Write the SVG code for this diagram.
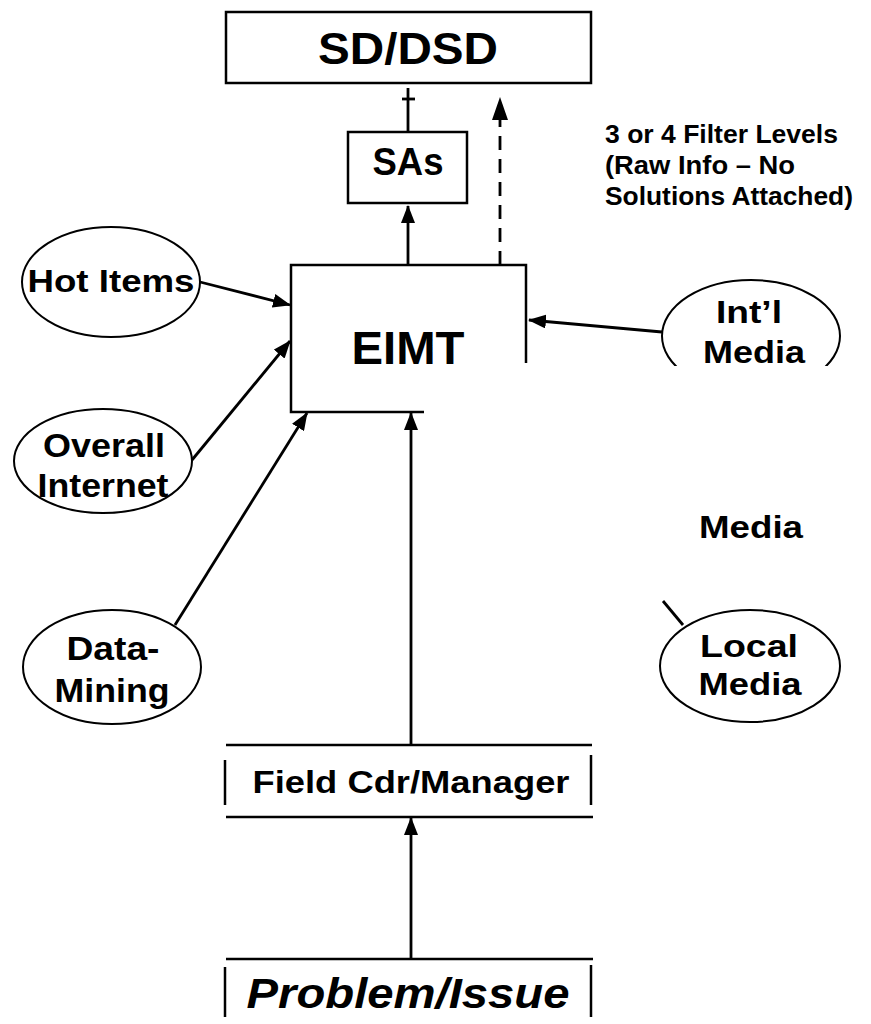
<svg xmlns="http://www.w3.org/2000/svg" width="871" height="1024" viewBox="0 0 871 1024">
<style>
text{font-family:"Liberation Sans",Arial,Helvetica,sans-serif;font-weight:bold;fill:#000;text-anchor:middle}
.box{fill:none;stroke:#000;stroke-width:2.5}
.ell{fill:none;stroke:#000;stroke-width:2}
.con{fill:none;stroke:#000;stroke-width:2.8}
.dash{fill:none;stroke:#000;stroke-width:2.8;stroke-dasharray:14 9}
</style>
<defs>
<marker id="ah" markerUnits="userSpaceOnUse" markerWidth="18" markerHeight="14" refX="17" refY="7" orient="auto">
<path d="M0,0 L18,7 L0,14 z" fill="#000"/>
</marker>
<clipPath id="clipIntl"><rect x="600" y="250" width="271" height="116"/></clipPath>
</defs>
<rect width="871" height="1024" fill="#fff"/>

<g id="sd-dsd">
<rect class="box" x="226" y="12" width="365" height="71"/>
<text x="408" y="64" font-size="45" textLength="180" lengthAdjust="spacingAndGlyphs">SD/DSD</text>
</g>

<g id="sas">
<rect class="box" x="348" y="132" width="119" height="71"/>
<text x="408" y="175" font-size="38" textLength="71" lengthAdjust="spacingAndGlyphs">SAs</text>
</g>

<g id="eimt">
<path class="box" d="M424,412 L291,412 L291,265 L526,265 L526,363"/>
<text x="408" y="364" font-size="46" textLength="113" lengthAdjust="spacingAndGlyphs">EIMT</text>
</g>

<g id="filter-note">
<text x="605" y="143" font-size="25" style="text-anchor:start" textLength="233" lengthAdjust="spacingAndGlyphs">3 or 4 Filter Levels</text>
<text x="605" y="174" font-size="25" style="text-anchor:start" textLength="190" lengthAdjust="spacingAndGlyphs">(Raw Info – No</text>
<text x="605" y="205" font-size="25" style="text-anchor:start" textLength="248" lengthAdjust="spacingAndGlyphs">Solutions Attached)</text>
</g>

<g id="hot-items">
<ellipse class="ell" cx="111" cy="282" rx="89" ry="55"/>
<text x="111" y="292" font-size="32" textLength="167" lengthAdjust="spacingAndGlyphs">Hot Items</text>
</g>

<g id="overall-internet">
<ellipse class="ell" cx="103" cy="461" rx="89" ry="52"/>
<text x="104" y="457" font-size="33" textLength="122" lengthAdjust="spacingAndGlyphs">Overall</text>
<text x="103" y="497" font-size="33" textLength="131" lengthAdjust="spacingAndGlyphs">Internet</text>
</g>

<g id="data-mining">
<ellipse class="ell" cx="112" cy="667" rx="89" ry="57"/>
<text x="113" y="660" font-size="34" textLength="93" lengthAdjust="spacingAndGlyphs">Data-</text>
<text x="112" y="702" font-size="34" textLength="115" lengthAdjust="spacingAndGlyphs">Mining</text>
</g>

<g id="intl-media">
<ellipse class="ell" cx="751" cy="336" rx="89" ry="56" clip-path="url(#clipIntl)"/>
<text x="749" y="323" font-size="32" textLength="66" lengthAdjust="spacingAndGlyphs">Int’l</text>
<text x="754" y="363" font-size="32" textLength="102" lengthAdjust="spacingAndGlyphs">Media</text>
</g>

<g id="media-label">
<text x="751" y="538" font-size="32" textLength="104" lengthAdjust="spacingAndGlyphs">Media</text>
</g>

<g id="local-media">
<ellipse class="ell" cx="750" cy="666" rx="90" ry="56"/>
<text x="749" y="657" font-size="32" textLength="98" lengthAdjust="spacingAndGlyphs">Local</text>
<text x="750" y="695" font-size="32" textLength="103" lengthAdjust="spacingAndGlyphs">Media</text>
</g>

<g id="field-cdr">
<line class="box" x1="226" y1="745" x2="592" y2="745"/>
<line class="box" x1="226" y1="817" x2="593" y2="817"/>
<line class="box" x1="225" y1="760" x2="225" y2="805" stroke-width="3"/>
<line class="box" x1="591" y1="755" x2="591" y2="805" stroke-width="3"/>
<text x="411" y="793" font-size="31" textLength="317" lengthAdjust="spacingAndGlyphs">Field Cdr/Manager</text>
</g>

<g id="problem-issue">
<line class="box" x1="226" y1="959" x2="593" y2="959"/>
<line class="box" x1="225" y1="967" x2="225" y2="1017" stroke-width="3"/>
<line class="box" x1="591" y1="965" x2="591" y2="1017" stroke-width="3"/>
<text x="408" y="1008" font-size="43" font-style="italic" textLength="323" lengthAdjust="spacingAndGlyphs">Problem/Issue</text>
</g>

<g id="connectors">
<path class="con" d="M408,132 L408,88" stroke-width="3.5"/>
<line class="con" x1="402" y1="99" x2="415" y2="99" stroke-width="3"/>
<line class="con" x1="408" y1="265" x2="408" y2="206" marker-end="url(#ah)"/>
<line class="dash" x1="500" y1="265" x2="500" y2="118"/>
<path d="M500,97 L492,120 L508,120 z" fill="#000"/>
<line class="con" x1="200" y1="282" x2="290" y2="305" marker-end="url(#ah)"/>
<line class="con" x1="192" y1="460" x2="290" y2="341" marker-end="url(#ah)"/>
<line class="con" x1="175" y1="625" x2="307" y2="413" marker-end="url(#ah)"/>
<line class="con" x1="662" y1="332" x2="529" y2="320" marker-end="url(#ah)"/>
<line class="con" x1="411" y1="745" x2="411" y2="413" marker-end="url(#ah)"/>
<line class="con" x1="411" y1="959" x2="411" y2="818" marker-end="url(#ah)"/>
<line class="con" x1="663" y1="601" x2="683" y2="625" stroke-width="2"/>
</g>
</svg>
